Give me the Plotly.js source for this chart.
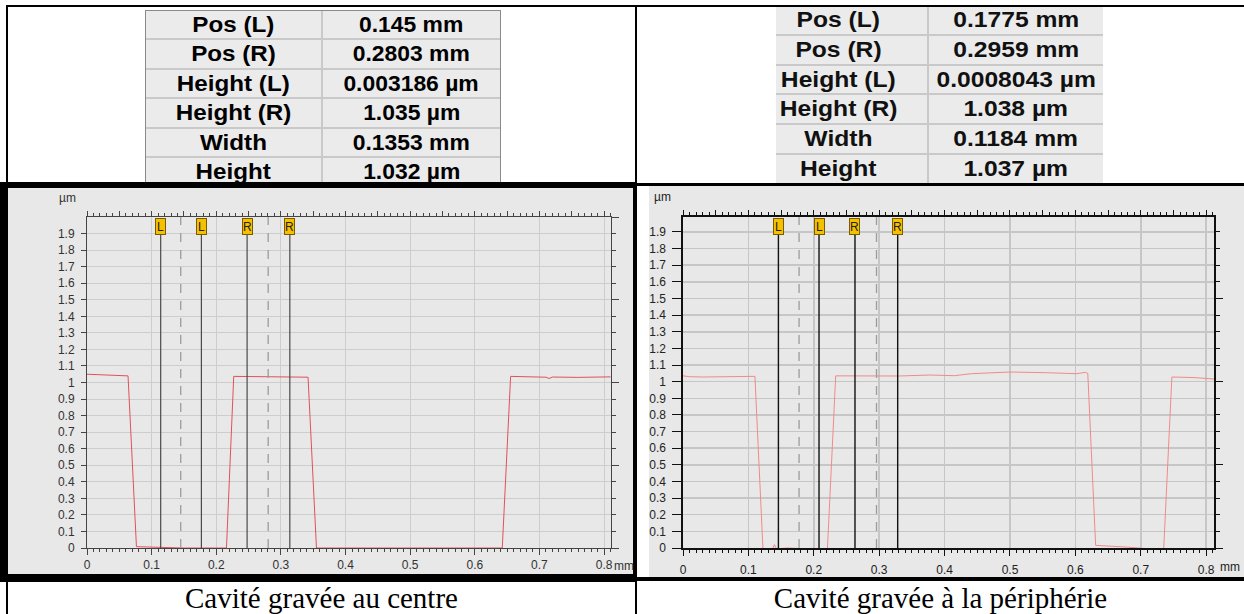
<!DOCTYPE html>
<html>
<head>
<meta charset="utf-8">
<script src="https://cdn.plot.ly/plotly-3.0.1.min.js"></script>
<style>
  body { margin:0; width:1244px; height:614px; background:#fff; position:relative; overflow:hidden;
         font-family: Arial, "Liberation Sans", sans-serif; }
  .abs { position:absolute; }
  .blk { position:absolute; background:#000; z-index:5; }
  .grid { position:absolute; display:grid; gap:2px; background:#c9c9c9; }
  .grid div { background:#ebebeb; text-align:center; font-weight:bold; color:#000; white-space:nowrap; box-sizing:border-box; }
  .grid span { display:inline-block; }
  .cap { position:absolute; font-family:"Liberation Serif","Times New Roman",serif; font-size:29px;
         height:34px; line-height:34px; text-align:center; color:#000; }
</style>
</head>
<body>
<div id="tblL" class="grid"></div>
<div id="tblR" class="grid"></div>

<div class="blk" style="left:0;top:182px;width:637px;height:400px;"></div>
<div class="abs" style="left:8px;top:188px;width:625px;height:386px;background:#e8e8e8;z-index:6;"></div>
<div id="chartL" class="abs" style="left:8px;top:188px;width:640px;height:386px;z-index:7;"></div>

<div class="abs" style="left:649px;top:186px;width:595px;height:391px;background:#e8e8e8;"></div>
<div id="chartR" class="abs" style="left:649px;top:186px;width:595px;height:391px;z-index:7;"></div>

<div class="blk" style="left:6px;top:5px;width:1238px;height:2px;"></div>
<div class="blk" style="left:6px;top:5px;width:2px;height:609px;"></div>
<div class="blk" style="left:635px;top:5px;width:2px;height:609px;"></div>
<div class="blk" style="left:637px;top:183px;width:607px;height:3px;"></div>
<div class="blk" style="left:637px;top:577px;width:607px;height:4px;"></div>

<div id="capL" class="cap" style="left:8px;top:581px;width:627px;"></div>
<div id="capR" class="cap" style="left:637px;top:581px;width:607px;"></div>

<script>
// ---------- data ----------
const rowLabels   = ['Pos (L)', 'Pos (R)', 'Height (L)', 'Height (R)', 'Width', 'Height'];
const valuesLeft  = ['0.145 mm', '0.2803 mm', '0.003186 µm', '1.035 µm', '0.1353 mm', '1.032 µm'];
const valuesRight = ['0.1775 mm', '0.2959 mm', '0.0008043 µm', '1.038 µm', '0.1184 mm', '1.037 µm'];
const captions    = ['Cavité gravée au centre', 'Cavité gravée à la périphérie'];

const xTickVals = [0, 0.1, 0.2, 0.3, 0.4, 0.5, 0.6, 0.7, 0.8];
const xTickText = ['0', '0.1', '0.2', '0.3', '0.4', '0.5', '0.6', '0.7', '0.8'];
const yTickVals = [0, 0.1, 0.2, 0.3, 0.4, 0.5, 0.6, 0.7, 0.8, 0.9, 1, 1.1, 1.2, 1.3, 1.4, 1.5, 1.6, 1.7, 1.8, 1.9];
const yTickText = ['0', '0.1', '0.2', '0.3', '0.4', '0.5', '0.6', '0.7', '0.8', '0.9', '1', '1.1', '1.2', '1.3', '1.4', '1.5', '1.6', '1.7', '1.8', '1.9'];
const xUnit = 'mm';
const yUnit = 'µm';

// profile : centre cavity
const profLx = [0, 0.02, 0.04, 0.0635, 0.0765, 0.09, 0.11, 0.13, 0.15, 0.18, 0.2158, 0.227, 0.26, 0.3, 0.342, 0.355, 0.45, 0.55, 0.6425, 0.6554, 0.69, 0.71, 0.715, 0.72, 0.76, 0.81];
const profLy = [1.05, 1.048, 1.044, 1.04, 0.008, 0.006, 0.005, 0.003, 0.0, 0.0, 0.0, 1.037, 1.036, 1.035, 1.032, 0.0, 0.0, 0.002, 0.0, 1.037, 1.035, 1.032, 1.024, 1.033, 1.031, 1.034];
// profile : peripheral cavity
const profRx = [0, 0.01, 0.03, 0.06, 0.09, 0.11, 0.1223, 0.13, 0.137, 0.1397, 0.143, 0.16, 0.19, 0.2208, 0.2335, 0.28, 0.33, 0.378, 0.415, 0.441, 0.5, 0.556, 0.6015, 0.6157, 0.619, 0.631, 0.68, 0.735, 0.7476, 0.78, 0.812];
const profRy = [1.035, 1.03, 1.028, 1.03, 1.032, 1.032, -0.01, -0.008, -0.005, 0.02, -0.005, 0.0, -0.005, -0.01, 1.035, 1.036, 1.034, 1.04, 1.036, 1.048, 1.058, 1.054, 1.048, 1.056, 1.05, 0.016, 0.005, -0.012, 1.028, 1.025, 1.016];

// cursors (solid L, L, R, R) and measured positions (dashed)
const cursorsL = [0.114, 0.177, 0.2477, 0.3138];
const cursorTagsL = ['L', 'L', 'R', 'R'];
const measuredL = [0.145, 0.2803];
const cursorsR = [0.1459, 0.208, 0.263, 0.3283];
const cursorTagsR = ['L', 'L', 'R', 'R'];
const measuredR = [0.1775, 0.2959];

// ---------- tables ----------
function buildTable(id, vals, s) {
  const el = document.getElementById(id);
  el.style.left = s.left + 'px'; el.style.top = s.top + 'px';
  el.style.gridTemplateColumns = s.c1 + 'px ' + s.c2 + 'px';
  el.style.gridAutoRows = s.rh + 'px';
  if (s.border) { el.style.borderLeft = s.border; el.style.borderRight = s.border; el.style.borderTop = s.border; }
  rowLabels.forEach((lab, i) => {
    [lab, vals[i]].forEach((t, j) => {
      const d = document.createElement('div');
      const sp = document.createElement('span');
      sp.textContent = t;
      sp.style.transform = 'scaleX(' + (j === 0 ? s.sx1 : s.sx2) + ')';
      d.appendChild(sp);
      d.style.fontSize = s.fs + 'px';
      d.style.lineHeight = s.rh + 'px';
      d.style.color = s.color;
      if (j === 0 && s.padR) d.style.paddingRight = s.padR + 'px';
      el.appendChild(d);
    });
  });
}
buildTable('tblL', valuesLeft, {left:145, top:10, c1:175, c2:177, rh:27.4, fs:22, color:'#000', border:'1px solid #8a8a8a', sx1:1.1, sx2:1.04});
buildTable('tblR', valuesRight, {left:776, top:6, c1:151, c2:174, rh:27.8, fs:22, color:'#111', sx1:1.12, sx2:1.12, padR:26});

document.getElementById('capL').textContent = captions[0];
document.getElementById('capR').textContent = captions[1];

// ---------- charts ----------
function makeChart(divId, px, py, cur, tags, meas, st) {
  const traces = [
    {x:px, y:py, type:'scatter', mode:'lines', line:{color:st.lineColor, width:1}, hoverinfo:'skip'},
    {x:px, y:py, type:'scatter', mode:'lines', xaxis:'x2', yaxis:'y2', opacity:0, line:{width:0}, hoverinfo:'skip'}
  ];
  const shapes = [];
  meas.forEach(v => shapes.push({type:'line', xref:'x', yref:'paper', x0:v, x1:v, y0:0, y1:1,
      line:{color:'#9c9c9c', width:1.3, dash:'9px,8px'}}));
  cur.forEach(v => shapes.push({type:'line', xref:'x', yref:'paper', x0:v, x1:v, y0:0, y1:0.95,
      line:{color:st.cursorColor, width:st.cursorWidth}}));
  const ann = [];
  cur.forEach((v, i) => ann.push({x:v, xref:'x', y:1, yref:'paper', yanchor:'top', yshift:-1,
      text:tags[i], showarrow:false, bgcolor:'#f5c000', bordercolor:'#7a5c00', borderwidth:1, borderpad:0,
      width:9, height:15, font:{size:12, color:'#222', family:'Arial, Liberation Sans, sans-serif'}}));
  ann.push({x:1, xref:'paper', y:0, yref:'paper', xanchor:'left', yanchor:'middle', xshift:st.mmShift, yshift:st.labY,
      text:xUnit, showarrow:false, font:{size:12, color:st.tickColor}});
  ann.push({x:0, xref:'paper', y:1, yref:'paper', xanchor:'left', yanchor:'middle', xshift:st.umX, yshift:st.umY,
      text:yUnit, showarrow:false, font:{size:12, color:st.tickColor}});

  const layout = {
    width:st.w, height:st.h, margin:{l:st.ml, r:st.mr, t:st.mt, b:st.mb, pad:0},
    paper_bgcolor:'rgba(0,0,0,0)', plot_bgcolor:'#e8e8e8', showlegend:false,
    font:{family:'Arial, Liberation Sans, sans-serif', size:12, color:st.tickColor},
    xaxis:{range:[0, st.xmax], tickmode:'array', tickvals:xTickVals, ticktext:xTickText,
      ticks:'outside', ticklen:6, tickcolor:st.axisColor, showline:true, linecolor:st.axisColor, linewidth:st.axisWidth,
      showgrid:true, gridcolor:st.gridColor, gridwidth:st.gridWidth, zeroline:false, ticklabelstandoff:st.xStand,
      minor:{tick0:0, dtick:0.01, ticks:'outside', ticklen:3, tickcolor:st.axisColor, showgrid:false}},
    yaxis:{range:[0, st.ymax], tickmode:'array', tickvals:yTickVals, ticktext:yTickText,
      ticks:'outside', ticklen:st.yTickLen, tickcolor:st.axisColor, showline:true, linecolor:st.axisColor, linewidth:st.axisWidth,
      showgrid:true, gridcolor:st.gridColor, gridwidth:st.gridWidth, zeroline:false, ticklabelstandoff:st.yStand},
    xaxis2:{overlaying:'x', anchor:'y2', side:'top', range:[0, st.xmax], tick0:0, dtick:0.05,
      ticks:'outside', ticklen:5, tickcolor:st.axisColor, showticklabels:false, showline:true, linecolor:st.axisColor,
      linewidth:st.axisWidth, showgrid:false, zeroline:false,
      minor:{tick0:0, dtick:0.01, ticks:'outside', ticklen:3, tickcolor:st.axisColor, showgrid:false}},
    yaxis2:{overlaying:'y', anchor:'x2', side:'right', range:[0, st.ymax], tick0:0, dtick:0.5,
      ticks:'outside', ticklen:7, tickcolor:st.axisColor, showticklabels:false, showline:true, linecolor:st.axisColor,
      linewidth:st.axisWidth, showgrid:false, zeroline:false,
      minor:{tick0:0, dtick:0.1, ticks:'outside', ticklen:4, tickcolor:st.axisColor, showgrid:false}},
    shapes:shapes, annotations:ann
  };
  Plotly.newPlot(divId, traces, layout, {staticPlot:true, displayModeBar:false});
}

makeChart('chartL', profLx, profLy, cursorsL, cursorTagsL, measuredL, {
  w:640, h:386, ml:79, mr:37, mt:29, mb:26, xmax:0.8107, ymax:2.0,
  lineColor:'#e2505c', cursorColor:'#4a4a4a', cursorWidth:1.2, axisColor:'#444', axisWidth:1,
  gridColor:'#cdcdcd', gridWidth:1, tickColor:'#333', yTickLen:5, xStand:0, yStand:4,
  mmShift:1, labY:-18, umX:-30, umY:19
});
makeChart('chartR', profRx, profRy, cursorsR, cursorTagsR, measuredR, {
  w:595, h:391, ml:34, mr:30, mt:31, mb:29, xmax:0.812, ymax:1.99,
  lineColor:'#f08a8a', cursorColor:'#111', cursorWidth:1.4, axisColor:'#111', axisWidth:1.6,
  gridColor:'#c6c6c6', gridWidth:1.5, tickColor:'#222', yTickLen:9, xStand:4, yStand:4,
  mmShift:4, labY:-19, umX:-31, umY:20
});
</script>
</body>
</html>
